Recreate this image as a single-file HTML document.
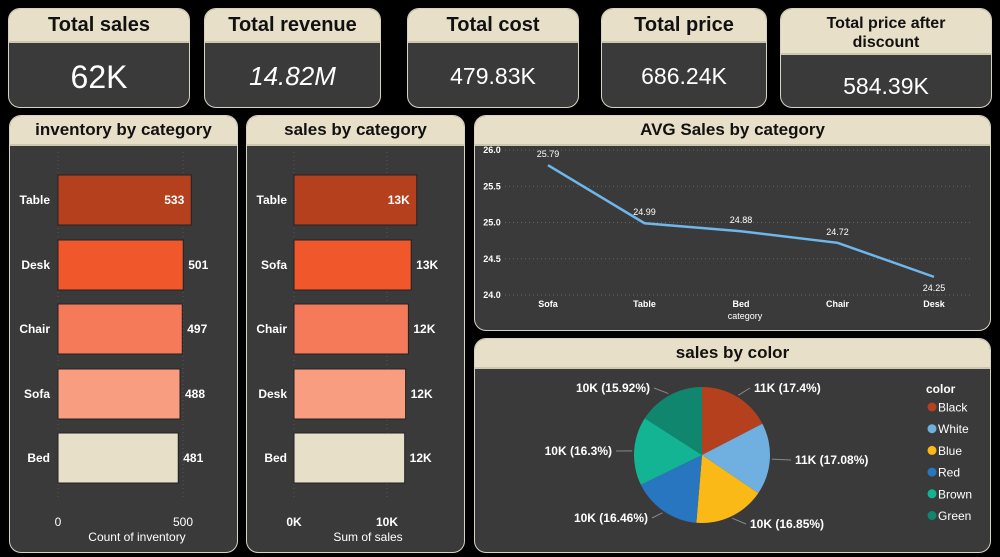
<!DOCTYPE html>
<html><head><meta charset="utf-8"><style>
body{margin:0;background:#000;width:1000px;height:557px;overflow:hidden;font-family:"Liberation Sans",sans-serif;position:relative}
.card{position:absolute;background:#3a3a3a;border:1px solid #d8d2c0;border-radius:12px;overflow:hidden;box-sizing:border-box}
.hd{background:#e8dfc9;color:#111;font-weight:bold;text-align:center;border-bottom:2px solid #cfc6af}
.val{color:#fff;text-align:center;position:absolute;left:0;right:0}
svg text{font-family:"Liberation Sans",sans-serif}
</style></head><body>
<div class="card" style="left:8px;top:8px;width:182px;height:100px"><div class="hd" style="height:32px;line-height:32px;font-size:20px">Total sales</div><div class="val" style="top:50px;font-size:32px">62K</div></div>
<div class="card" style="left:204px;top:8px;width:177px;height:100px"><div class="hd" style="height:32px;line-height:32px;font-size:20px">Total revenue</div><div class="val" style="top:52px;font-size:26px;font-style:italic">14.82M</div></div>
<div class="card" style="left:407px;top:8px;width:172px;height:100px"><div class="hd" style="height:32px;line-height:32px;font-size:20px">Total cost</div><div class="val" style="top:54px;font-size:23px">479.83K</div></div>
<div class="card" style="left:601px;top:8px;width:166px;height:100px"><div class="hd" style="height:32px;line-height:32px;font-size:20px">Total price</div><div class="val" style="top:54px;font-size:23px">686.24K</div></div>
<div class="card" style="left:780px;top:8px;width:212px;height:100px"><div class="hd" style="height:46px;font-size:16px;line-height:19px;padding-top:5px;box-sizing:border-box">Total price after<br>discount</div><div class="val" style="top:64px;font-size:23px">584.39K</div></div>

<div class="card" style="left:9px;top:115px;width:229px;height:438px"><div class="hd" style="height:28px;line-height:28px;font-size:17px">inventory by category</div></div>
<div class="card" style="left:246px;top:115px;width:219px;height:438px"><div class="hd" style="height:28px;line-height:28px;font-size:17px">sales by category</div></div>
<div class="card" style="left:474px;top:115px;width:517px;height:216px"><div class="hd" style="height:28px;line-height:28px;font-size:17px">AVG Sales by category</div></div>
<div class="card" style="left:474px;top:338px;width:517px;height:215px"><div class="hd" style="height:28px;line-height:28px;font-size:17px">sales by color</div></div>

<svg id="s" width="1000" height="557" style="position:absolute;left:0;top:0"></svg>
<script>
const invCats=["Table","Desk","Chair","Sofa","Bed"];
const invVals=[533,501,497,488,481];
const salesCats=["Table","Sofa","Chair","Desk","Bed"];
const salesVals=[13200,12600,12300,12000,11900];
const salesLabels=["13K","13K","12K","12K","12K"];
const avgCats=["Sofa","Table","Bed","Chair","Desk"];
const avgVals=[25.79,24.99,24.88,24.72,24.25];
const avgTicks=[24.0,24.5,25.0,25.5,26.0];
const colorCats=["Black","White","Blue","Red","Brown","Green"];
const colorPct=[17.4,17.08,16.85,16.46,16.3,15.92];
const colorLabels=["11K (17.4%)","11K (17.08%)","10K (16.85%)","10K (16.46%)","10K (16.3%)","10K (15.92%)"];
const barColors=["#b5401e","#f0572a","#f47a59","#f99d80","#e8dfc9"];
const pieColors=["#b5401e","#6fb0e0","#fbb917","#2776bf","#13b494","#10866e"];

const S=document.getElementById('s');const NS="http://www.w3.org/2000/svg";
function mk(t,a,txt){const e=document.createElementNS(NS,t);for(const k in a)e.setAttribute(k,a[k]);if(txt!==undefined)e.textContent=txt;S.appendChild(e);return e;}
const rowY=[175,240,304,369,433];const bh=50;
// inventory
const ix=v=>58+v*0.25;
[0,500].forEach(t=>{mk('line',{x1:ix(t),x2:ix(t),y1:152,y2:500,stroke:'#555','stroke-dasharray':'1,3'});
const e=mk('text',{x:ix(t),y:526,fill:'#fff','font-size':12,'text-anchor':'middle'},t);

});
mk('text',{x:137,y:541,fill:'#fff','font-size':12,'text-anchor':'middle'},'Count of inventory');
invCats.forEach((c,i)=>{const w=ix(invVals[i])-ix(0);
const r=mk('rect',{x:ix(0),y:rowY[i],width:w,height:bh,fill:barColors[i],stroke:'#222'});


mk('text',{x:50,y:rowY[i]+29,fill:'#fff','font-size':12,'font-weight':'bold','text-anchor':'end'},c);
const inside=i==0;
mk('text',{x:inside?ix(invVals[i])-7:ix(invVals[i])+5,y:rowY[i]+29,fill:'#fff','font-size':12,'font-weight':'bold','text-anchor':inside?'end':'start'},invVals[i]);});
// sales
const sx=v=>294+v*0.0093;
[0,10000].forEach((t,k)=>{mk('line',{x1:sx(t),x2:sx(t),y1:152,y2:500,stroke:'#555','stroke-dasharray':'1,3'});
const e=mk('text',{x:sx(t),y:526,fill:'#fff','font-size':12,'font-weight':'bold','text-anchor':'middle'},k?'10K':'0K');

});
mk('text',{x:368,y:541,fill:'#fff','font-size':12,'text-anchor':'middle'},'Sum of sales');
salesCats.forEach((c,i)=>{const w=sx(salesVals[i])-sx(0);
const r=mk('rect',{x:sx(0),y:rowY[i],width:w,height:bh,fill:barColors[i],stroke:'#222'});


mk('text',{x:287,y:rowY[i]+29,fill:'#fff','font-size':12,'font-weight':'bold','text-anchor':'end'},c);
const inside=i==0;
mk('text',{x:inside?sx(salesVals[i])-7:sx(salesVals[i])+5,y:rowY[i]+29,fill:'#fff','font-size':12,'font-weight':'bold','text-anchor':inside?'end':'start'},salesLabels[i]);});
// line chart
const ly=v=>295-(v-24)*72.5, lx=i=>548+i*96.5;
avgTicks.forEach(t=>{mk('line',{x1:505,x2:972,y1:ly(t),y2:ly(t),stroke:'#666','stroke-dasharray':'1,3'});
mk('text',{x:492,y:ly(t)+3,fill:'#fff','font-size':9,'font-weight':'bold','text-anchor':'middle'},t.toFixed(1));});
const pl=mk('polyline',{points:avgVals.map((v,i)=>lx(i)+','+ly(v)).join(' '),fill:'none',stroke:'#6fb6ea','stroke-width':2.5});


avgCats.forEach((c,i)=>{mk('text',{x:lx(i),y:307,fill:'#fff','font-size':9,'font-weight':'bold','text-anchor':'middle'},c);
const below=i==4;
mk('text',{x:lx(i),y:below?ly(avgVals[i])+14:ly(avgVals[i])-8,fill:'#fff','font-size':9,'text-anchor':'middle'},avgVals[i].toFixed(2));});
mk('text',{x:745,y:319,fill:'#fff','font-size':9,'text-anchor':'middle'},'category');
// pie
const cx=702,cy=455,R=68;const tot=colorPct.reduce((a,b)=>a+b,0);
let a0=-Math.PI/2;
const lp=[[754,392,'start'],[795,464,'start'],[750,528,'start'],[648,522,'end'],[612,455,'end'],[650,392,'end']];
colorPct.forEach((p,i)=>{const a1=a0+p/tot*2*Math.PI;
const x0=cx+R*Math.cos(a0),y0=cy+R*Math.sin(a0),x1=cx+R*Math.cos(a1),y1=cy+R*Math.sin(a1);
const sl=mk('path',{d:`M${cx},${cy}L${x0},${y0}A${R},${R} 0 ${a1-a0>Math.PI?1:0} 1 ${x1},${y1}Z`,fill:pieColors[i]});


const am=(a0+a1)/2;const ex=cx+(R+2)*Math.cos(am),ey=cy+(R+2)*Math.sin(am);
mk('line',{x1:ex,y1:ey,x2:lp[i][0]+(lp[i][2]=='start'?-4:4),y2:lp[i][1]-4,stroke:'#888'});
mk('text',{x:lp[i][0],y:lp[i][1],fill:'#fff','font-size':12,'font-weight':'bold','text-anchor':lp[i][2]},colorLabels[i]);
a0=a1;});
mk('text',{x:926,y:393,fill:'#fff','font-size':12,'font-weight':'bold'},'color');
colorCats.forEach((c,i)=>{const y=407+i*21.7;
mk('circle',{cx:932,cy:y,r:4.5,fill:pieColors[i]});
const t=mk('text',{x:938,y:y+4.5,fill:'#fff','font-size':12},c);

});
</script>
</body></html>
